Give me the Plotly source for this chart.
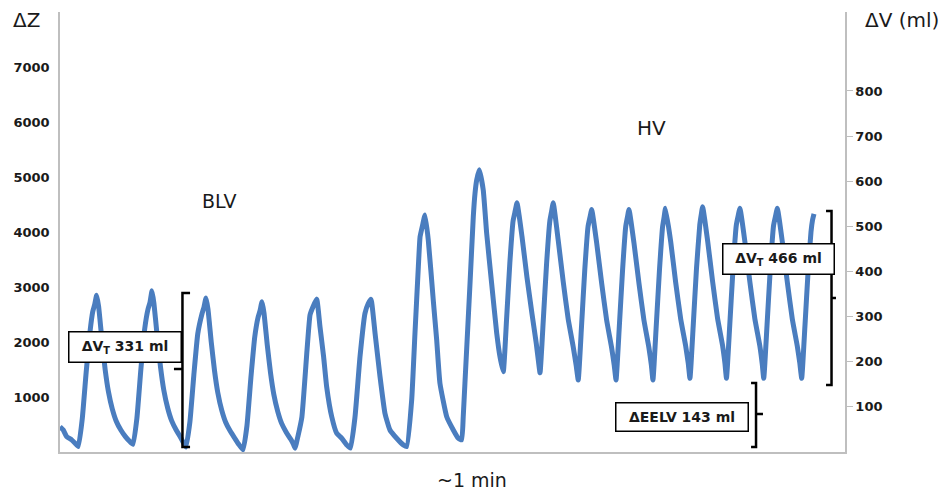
import plotly.graph_objects as go

# ---------------- data ----------------
# time in seconds, impedance change dZ (a.u.)
blv_t = [0.00, 0.25, 0.51, 0.89, 1.15,
         1.40, 1.70, 2.00, 2.30, 2.50, 2.65, 2.80, 2.95, 3.20, 3.45, 3.70, 4.00, 4.30, 4.65, 5.00, 5.30,
         5.58, 5.88, 6.18, 6.48, 6.73, 6.88, 7.03, 7.18, 7.43, 7.68, 7.93, 8.23, 8.53, 8.88, 9.23, 9.43,
         9.63, 9.93, 10.23, 10.53, 10.86, 11.01, 11.16, 11.31, 11.56, 11.81, 12.06, 12.36, 12.66, 13.01, 13.36, 13.66,
         13.99, 14.29, 14.59, 14.89, 15.14, 15.29, 15.44, 15.59, 15.84, 16.09, 16.34, 16.64, 16.94, 17.29, 17.64, 17.84,
         17.96, 18.20, 18.49, 18.88, 19.11, 19.34, 19.62, 19.87, 20.15, 20.38, 20.77, 21.15, 21.53, 21.91,
         22.20, 22.55, 22.93, 23.31, 23.56, 23.77, 24.08, 24.46, 24.84, 25.22, 25.73, 26.24,
         26.50, 26.88, 27.13, 27.39, 27.52, 27.72, 27.90, 28.15, 28.53, 28.79, 29.04, 29.56, 30.06, 30.44]
blv_dz = [460, 400, 280, 220, 160,
          100, 600, 1450, 2200, 2550, 2680, 2850, 2650, 2050, 1500, 1100, 780, 560, 400, 280, 200,
          140, 620, 1500, 2250, 2600, 2720, 2930, 2700, 2100, 1550, 1130, 800, 570, 400, 260, 170,
          90, 550, 1400, 2150, 2520, 2640, 2800, 2600, 2000, 1480, 1080, 760, 540, 380, 250, 140,
          40, 480, 1350, 2100, 2450, 2570, 2730, 2530, 1950, 1440, 1050, 740, 520, 360, 230, 140,
          70, 300, 640, 1850, 2490, 2640, 2780, 2280, 1730, 1190, 640, 340, 250, 130,
          70, 640, 1730, 2520, 2700, 2776, 2160, 1370, 700, 400, 250, 130,
          100, 945, 2150, 3370, 3910, 4130, 4310, 3850, 2760, 2040, 1250, 640, 400, 250]

hv_t = [30.70, 30.82, 30.95, 31.34, 31.59, 31.72, 31.85, 32.05, 32.35, 32.61, 32.99, 33.38, 33.63,
        33.88, 34.13, 34.38, 34.63, 34.78, 34.93, 35.31, 35.69, 36.07, 36.40, 36.57,
        36.69, 36.94, 37.19, 37.44, 37.57, 37.70, 38.08, 38.46, 38.84, 39.22, 39.46,
        39.61, 39.86, 40.11, 40.36, 40.51, 40.64, 41.02, 41.40, 41.78, 42.16, 42.36,
        42.50, 42.75, 43.00, 43.24, 43.37, 43.49, 43.87, 44.25, 44.63, 45.01, 45.20,
        45.32, 45.57, 45.82, 46.06, 46.18, 46.28, 46.68, 47.06, 47.44, 47.82, 48.02,
        48.15, 48.40, 48.65, 48.90, 49.01, 49.12, 49.50, 49.88, 50.26, 50.64, 50.82,
        50.94, 51.19, 51.44, 51.69, 51.83, 51.97, 52.35, 52.73, 53.11, 53.49, 53.67,
        53.79, 54.04, 54.29, 54.54, 54.69, 54.83, 55.21, 55.59, 55.97, 56.35, 56.55,
        56.69, 56.94, 57.19, 57.40, 57.52, 57.63]
hv_dz = [220, 640, 1250, 3070, 4280, 4700, 4945, 5130, 4760, 3980, 3070, 2160, 1730,
         1460, 2400, 3430, 4200, 4370, 4530, 3920, 3180, 2520, 1980, 1650,
         1440, 2400, 3420, 4200, 4370, 4530, 3850, 3100, 2420, 1920, 1560,
         1310, 2280, 3310, 4100, 4270, 4410, 3800, 3070, 2400, 1900, 1580,
         1310, 2280, 3310, 4100, 4270, 4410, 3800, 3070, 2400, 1900, 1580,
         1310, 2280, 3310, 4100, 4280, 4430, 3820, 3080, 2420, 1930, 1610,
         1340, 2300, 3340, 4130, 4310, 4460, 3840, 3100, 2430, 1940, 1620,
         1340, 2300, 3330, 4120, 4290, 4430, 3820, 3090, 2420, 1930, 1610,
         1340, 2300, 3330, 4120, 4290, 4430, 3820, 3090, 2420, 1930, 1610,
         1340, 2300, 3330, 4000, 4220, 4330]

dz_ticks = [1000, 2000, 3000, 4000, 5000, 6000, 7000]
dv_ticks = [100, 200, 300, 400, 500, 600, 700, 800]

box_labels = ["<b>ΔV<sub>T</sub> 331 ml</b>", "<b>ΔV<sub>T</sub> 466 ml</b>", "<b>ΔEELV 143 ml</b>"]

# ---------------- layout geometry ----------------
W, H = 944, 493
L, R, T, B = 60, 845, 12, 452          # plot area in pixels


def px(xp):
    return (xp - L) / (R - L)


def py(yp):
    return (B - yp) / (B - T)


FONT = "DejaVu Sans"
TXT = "#1a1a1a"
AX = "#bfbfbf"
LINE = "#4a7dbf"

fig = go.Figure()
fig.add_trace(go.Scatter(x=blv_t + hv_t, y=blv_dz + hv_dz, mode="lines",
                         line=dict(color=LINE, width=5, shape="spline", smoothing=0.4),
                         showlegend=False, hoverinfo="skip"))
# carrier for the right-hand volume axis
fig.add_trace(go.Scatter(x=[0], y=[0], yaxis="y2", mode="markers",
                         marker=dict(opacity=0), showlegend=False, hoverinfo="skip"))

fig.update_layout(
    width=W, height=H,
    margin=dict(l=L, r=W - R, t=T, b=H - B, pad=0),
    paper_bgcolor="white", plot_bgcolor="white",
    font=dict(family=FONT, color=TXT),
    xaxis=dict(range=[0, 60], showline=True, linecolor=AX, linewidth=1.5,
               showticklabels=False, ticks="", showgrid=False, zeroline=False),
    yaxis=dict(range=[0, 8000], tickvals=dz_ticks, ticks="", showline=True,
               linecolor=AX, linewidth=1.5, showgrid=False, zeroline=False,
               tickfont=dict(family=FONT, size=13, color=TXT, weight="bold"),
               ticklabelstandoff=6),
    yaxis2=dict(range=[0, 975], tickvals=dv_ticks, overlaying="y", side="right",
                ticks="outside", ticklen=6, tickcolor=AX, tickwidth=1.2,
                showline=True, linecolor=AX, linewidth=1.5, showgrid=False,
                zeroline=False,
                tickfont=dict(family=FONT, size=13, color=TXT, weight="bold")),
)

# plain text labels
texts = [
    ("ΔZ", 26, 20, 20),
    ("ΔV (ml)", 902, 20, 20),
    ("BLV", 219.5, 201, 19),
    ("HV", 651, 128, 20),
    ("~1 min", 472, 480, 19),
]
for s, xp, yp, fs in texts:
    fig.add_annotation(text=s, xref="paper", yref="paper", x=px(xp), y=py(yp),
                       xanchor="center", yanchor="middle", showarrow=False,
                       font=dict(family=FONT, size=fs, color=TXT))

# brackets (data coordinates: seconds, dZ)
brackets = [
    "M 9.94,2891 L 9.36,2891 L 9.36,91 L 9.94,91 M 8.71,1509 L 9.36,1509",
    "M 58.55,4382 L 58.97,4382 L 58.97,1218 L 58.55,1218 M 58.97,2800 L 59.31,2800",
    "M 52.82,1255 L 53.20,1255 L 53.20,91 L 52.82,91 M 53.20,691 L 53.73,691",
]
for p in brackets:
    fig.add_shape(type="path", path=p, xref="x", yref="y",
                  line=dict(color="black", width=2.5))

# boxed value labels (pixel centres and sizes)
boxes = [(125, 347, 111, 29), (778.5, 259, 110, 29), (682, 417, 131, 27)]
for s, (xp, yp, bw, bh) in zip(box_labels, boxes):
    fig.add_annotation(text=s, xref="paper", yref="paper", x=px(xp), y=py(yp),
                       xanchor="center", yanchor="middle", showarrow=False,
                       width=bw, height=bh, borderpad=0, borderwidth=1.5,
                       bordercolor="black", bgcolor="white",
                       font=dict(family=FONT, size=14, color=TXT))

fig.write_html("out.html")
